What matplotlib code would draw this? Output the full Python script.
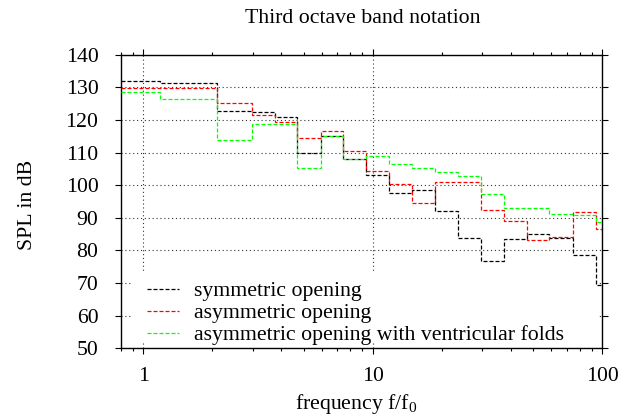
import numpy as np
import matplotlib
matplotlib.use('Agg')
import matplotlib.pyplot as plt
from matplotlib import ticker
from matplotlib.patches import Rectangle

plt.rcParams['font.family'] = ['Liberation Serif', 'DejaVu Serif']
plt.rcParams['mathtext.fontset'] = 'custom'
plt.rcParams['mathtext.rm'] = 'Liberation Serif'
plt.rcParams['mathtext.it'] = 'Liberation Serif:italic'

# third octave band edges (f/f0)
band_edges = [0.8, 1.18, 2.10, 2.97, 3.74, 4.69, 5.93, 7.44, 9.40, 11.8, 14.86,
              18.67, 23.6, 29.7, 37.5, 47.1, 59.0, 74.5, 94.3, 100.0]

# SPL per band (dB)
spl_symmetric = [131.8, 131.3, 122.8, 122.4, 121.0, 110.0, 115.2, 108.1, 103.0, 97.7,
                 98.4, 92.0, 83.7, 76.9, 83.4, 85.0, 83.9, 78.6, 69.4]
spl_asymmetric = [129.9, 129.9, 125.2, 121.4, 119.5, 114.4, 116.7, 110.4, 104.5, 100.3,
                  94.6, 100.9, 100.9, 92.5, 89.1, 83.2, 84.0, 91.9, 86.5]
spl_asym_folds = [128.7, 126.3, 113.8, 118.7, 118.7, 105.2, 115.1, 108.1, 108.9, 106.4,
                  105.3, 104.1, 102.7, 97.2, 92.9, 92.9, 91.1, 90.8, 88.7]

labels = ['symmetric opening', 'asymmetric opening',
          'asymmetric opening with ventricular folds']
colors = ['#000000', '#ff0000', '#00ff00']

fs = 15.7
fig = plt.figure(figsize=(6.35, 4.2), dpi=100)
ax = fig.add_axes([0.1906, 0.1707, 0.7575, 0.6991])

for vals, lab, col in zip([spl_symmetric, spl_asymmetric, spl_asym_folds], labels, colors):
    ax.stairs(vals, band_edges, baseline=None, color=col, linewidth=0.9,
              linestyle=(0, (3.2, 1.6)), label=lab, zorder=3)

ax.set_xscale('log')
ax.set_xlim(0.8, 100)
ax.set_ylim(50, 140)
ax.set_yticks(np.arange(50, 141, 10))
ax.xaxis.set_major_formatter(ticker.FormatStrFormatter('%g'))
ax.xaxis.set_minor_formatter(ticker.NullFormatter())

ax.grid(True, which='major', color='#333333', linewidth=0.8, linestyle=(0, (1, 2.5)))
ax.tick_params(which='both', direction='out', top=True, right=True, width=0.8,
               labelsize=fs)
ax.tick_params(axis='x', pad=9)
ax.tick_params(axis='y', pad=12)
ax.tick_params(which='major', length=4.3)
ax.tick_params(which='minor', length=2.5)
for sp in ax.spines.values():
    sp.set_linewidth(1.0)

# white key background that hides the grid
ax.add_patch(Rectangle((0.021, 0.021), 0.97, 0.235, transform=ax.transAxes,
                       facecolor='white', edgecolor='none', zorder=1.8))
leg = ax.legend(loc='lower left', bbox_to_anchor=(0.0534, 0.01), frameon=False,
                fontsize=fs, borderpad=0, borderaxespad=0, labelspacing=0.08,
                handlelength=1.5, handletextpad=0.68)

ax.set_xlabel('frequency f/f$_0$', fontsize=fs)
ax.xaxis.set_label_coords(0.4886, -0.15)
ax.set_ylabel('SPL in dB', fontsize=fs)
ax.yaxis.set_label_coords(-0.175, 0.49)

fig.text(363 / 635, 1 - 23.3 / 420, 'Third octave band notation', fontsize=fs,
         ha='center', va='baseline')

fig.savefig('out.png', dpi=100)
